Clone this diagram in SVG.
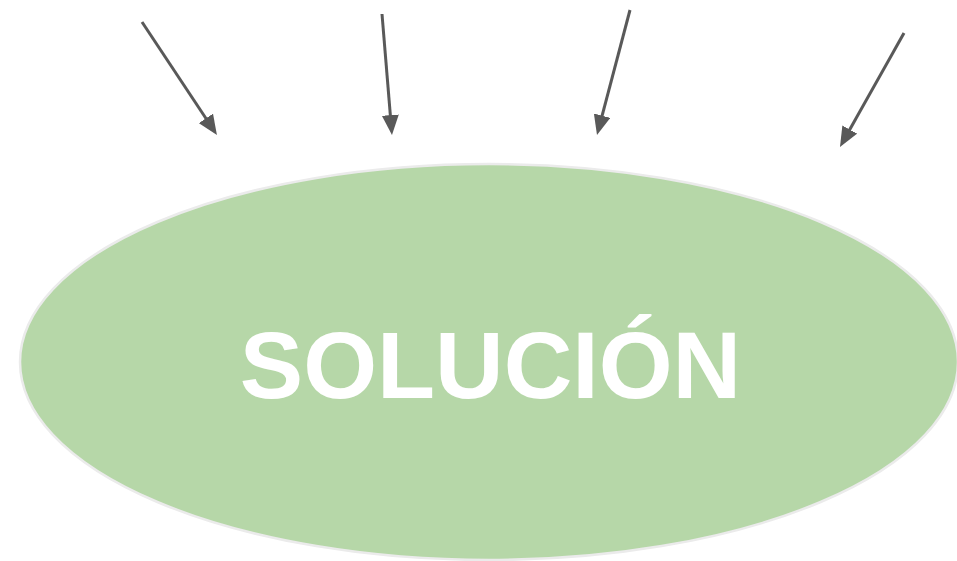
<svg xmlns="http://www.w3.org/2000/svg" width="957" height="561" viewBox="0 0 957 561">
  <style>
    .conn { stroke: #595959; stroke-width: 3; fill: none; }
    .node { fill: #b6d7a8; stroke: #ebebeb; stroke-width: 2.5; }
    .label { fill: #ffffff; font-family: "Liberation Sans", Arial, sans-serif; font-weight: bold; font-size: 95px; }
  </style>
  <defs>
    <marker id="arrow" markerUnits="userSpaceOnUse" markerWidth="22" markerHeight="17" refX="2" refY="8.5" orient="auto">
      <path d="M0,0 L20,8.5 L0,17 Z" fill="#595959"/>
    </marker>
  </defs>
  <rect width="957" height="561" fill="#ffffff"/>
  <g id="solucion">
    <ellipse class="node" cx="489" cy="362" rx="469" ry="198"/>
    <text class="label" x="490.5" y="398" text-anchor="middle">SOLUCIÓN</text>
  </g>
  <g id="connectors">
    <line class="conn" x1="142" y1="22" x2="207" y2="120" marker-end="url(#arrow)"/>
    <line class="conn" x1="382" y1="14" x2="390.5" y2="117.1" marker-end="url(#arrow)"/>
    <line class="conn" x1="630" y1="10" x2="601.6" y2="117.6" marker-end="url(#arrow)"/>
    <line class="conn" x1="904" y1="33" x2="848.8" y2="131.3" marker-end="url(#arrow)"/>
  </g>
</svg>
